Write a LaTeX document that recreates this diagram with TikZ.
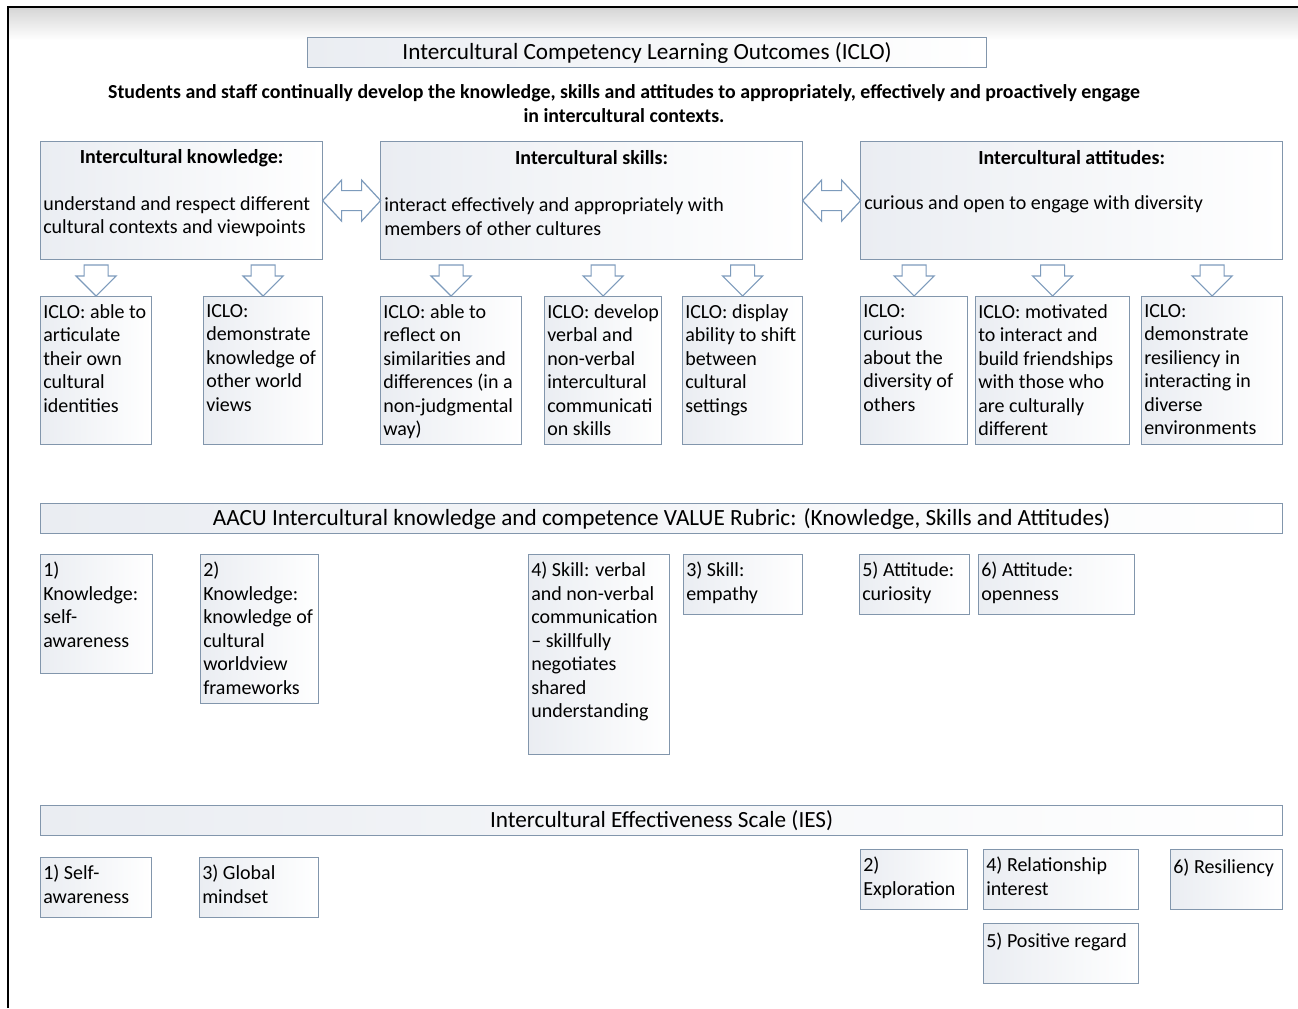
\documentclass[tikz,border=0pt]{standalone}
\usepackage{fontspec}
\setmainfont{Carlito}
\usetikzlibrary{calc}
\definecolor{bord}{RGB}{130,150,172}
\definecolor{arrc}{RGB}{125,155,188}
\definecolor{shd}{RGB}{234,237,242}
\newcommand\bxfont{\fontsize{15}{17.6}\selectfont}
\newcommand\barfont{\fontsize{17.4}{20}\selectfont}
\newcommand\mysubfont{\fontsize{14.9}{18}\selectfont\bfseries}
\newcommand\headfont{\fontsize{15}{17}\selectfont\bfseries}
\tikzset{
  boxst/.style={draw=bord, line width=0.9pt, left color=shd, right color=white, inner sep=0pt},
  txt/.style={anchor=north west, align=left, inner sep=0pt, font=\bxfont, execute at begin node=\strut},
  arrst/.style={draw=arrc, fill=white, line width=0.9pt, line join=miter},
  darr/.pic={\draw[arrst] (-12,0) -- (12,0) -- (12,11) -- (20,11) -- (0,31) -- (-20,11) -- (-12,11) -- cycle;},
  dbl/.pic={\draw[arrst] (-29,0) -- (-10,-20.5) -- (-10,-10) -- (10,-10) -- (10,-20.5) -- (29,0) -- (10,20.5) -- (10,10) -- (-10,10) -- (-10,20.5) -- cycle;}
}
\newcommand\mkbox[6]{%
  \pgfmathsetmacro\bw{(#4-#2)*0.75}\pgfmathsetmacro\bh{(#5-#3)*0.75}%
  \node[boxst, anchor=north west, minimum width=\bw pt, minimum height=\bh pt] (#1) at (#2,#3) {};
  \node[txt] (#1-t) at ($(#1.north west)+(3,8)$) {#6};
}
\begin{document}
\begin{tikzpicture}[x=0.75pt,y=-0.75pt]
\useasboundingbox[fill=white] (0,0) rectangle (1298,1008);
\shade[top color=black!16, bottom color=white] (8,8) rectangle (1298,40);
\coordinate (fbl) at (8,1008);
\coordinate (ftl) at (8,7);
\coordinate (ftr) at (1298,7);
\draw[line width=1.6pt] (fbl) -- (ftl) -- (ftr);

% title
\mkbox{title}{307}{37}{986}{67}{}
\node[font=\barfont, inner sep=0pt] (title-c) at (title.center) {Intercultural Competency Learning Outcomes (ICLO)};
\node[font=\mysubfont, align=center, inner sep=0pt] (sub) at (624,104) {Students and staff continually develop the knowledge, skills and attitudes to appropriately, effectively and proactively engage\\in intercultural contexts.};

% big boxes
\mkbox{kn}{40}{141}{322}{259}{}
\mkbox{sk}{380}{141}{802}{259}{}
\mkbox{at}{860}{141}{1282}{259}{}
\node[font=\headfont, inner sep=0pt] (kn-h) at ($(kn.north)+(0,17)$) {Intercultural knowledge:};
\node[font=\headfont, inner sep=0pt] (sk-h) at ($(sk.north)+(0,17)$) {Intercultural skills:};
\node[font=\headfont, inner sep=0pt] (at-h) at ($(at.north)+(0,17)$) {Intercultural attitudes:};
\node[font=\bxfont, align=left, inner sep=0pt, anchor=west] (kn-b) at ($(kn.west)+(3,16)$) {understand and respect different\\cultural contexts and viewpoints};
\node[font=\bxfont, align=left, inner sep=0pt, anchor=west] (sk-b) at ($(sk.west)+(4,16)$) {interact effectively and appropriately with\\members of other cultures};
\node[font=\bxfont, align=left, inner sep=0pt, anchor=west] (at-b) at ($(at.west)+(4,4)$) {curious and open to engage with diversity};
\pic at ($(kn.east)!0.5!(sk.west)$) {dbl};
\pic at ($(sk.east)!0.5!(at.west)$) {dbl};

% ICLO boxes
\mkbox{b1}{40}{296}{151}{444}{ICLO: able to\\articulate\\their own\\cultural\\identities}
\mkbox{b2}{203}{296}{322}{444}{ICLO:\\demonstrate\\knowledge of\\other world\\views}
\mkbox{b3}{380}{296}{521}{444}{ICLO: able to\\reflect on\\similarities and\\differences (in a\\non-judgmental\\way)}
\mkbox{b4}{544}{296}{661}{444}{ICLO: develop\\verbal and\\non-verbal\\intercultural\\communicati\\on skills}
\mkbox{b5}{682}{296}{802}{444}{ICLO: display\\ability to shift\\between\\cultural\\settings}
\mkbox{b6}{860}{296}{967}{444}{ICLO:\\curious\\about the\\diversity of\\others}
\mkbox{b7}{975}{296}{1129}{444}{ICLO: motivated\\to interact and\\build friendships\\with those who\\are culturally\\different}
\mkbox{b8}{1141}{296}{1282}{444}{ICLO:\\demonstrate\\resiliency in\\interacting in\\diverse\\environments}
\foreach \b in {b1,b2,b3,b4,b5,b6,b7,b8}{\pic at ($(\b.north)+(0,-31)$) {darr};}

% AACU
\mkbox{aacu}{40}{503}{1282}{533}{}
\node[font=\barfont, inner sep=0pt] (aacu-c) at (aacu.center) {AACU Intercultural knowledge and competence VALUE Rubric: (Knowledge, Skills and Attitudes)};
\mkbox{a1}{40}{554}{152}{673}{1)\\Knowledge:\\self-\\awareness}
\mkbox{a2}{200}{554}{318}{703}{2)\\Knowledge:\\knowledge of\\cultural\\worldview\\frameworks}
\mkbox{a4}{528}{554}{669}{754}{4) Skill: verbal\\and non-verbal\\communication\\– skillfully\\negotiates\\shared\\understanding}
\mkbox{a3}{683}{554}{802}{614}{3) Skill:\\empathy}
\mkbox{a5}{859}{554}{969}{614}{5) Attitude:\\curiosity}
\mkbox{a6}{978}{554}{1134}{614}{6) Attitude:\\openness}

% IES
\mkbox{ies}{40}{805}{1282}{835}{}
\node[font=\barfont, inner sep=0pt] (ies-c) at (ies.center) {Intercultural Effectiveness Scale (IES)};
\mkbox{i1}{40}{857}{151}{917}{1) Self-\\awareness}
\mkbox{i3}{199}{857}{318}{917}{3) Global\\mindset}
\mkbox{i2}{860}{849}{967}{909}{2)\\Exploration}
\mkbox{i4}{983}{849}{1138}{909}{4) Relationship\\interest}
\mkbox{i6}{1170}{849}{1282}{909}{6) Resiliency}
\mkbox{i5}{983}{923}{1138}{983}{5) Positive regard}
\end{tikzpicture}
\end{document}
